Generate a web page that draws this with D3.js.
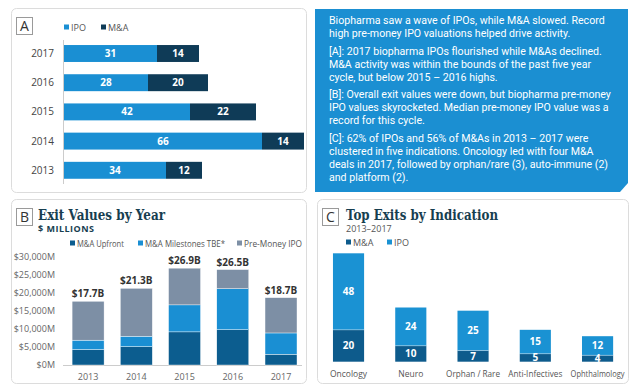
<!DOCTYPE html>
<html>
<head>
<meta charset="utf-8">
<script src="https://cdn.jsdelivr.net/npm/d3@7"></script>
<style>
  body{margin:0;background:#fff;}
  svg{display:block;font-family:"Open Sans",sans-serif;}
</style>
</head>
<body>
<svg id="chart" width="640" height="392"></svg>
<script>
// panel A: exits per year
var yearsA = ['2017','2016','2015','2014','2013'];
var ipoA   = [31,28,42,66,34];
var maA    = [14,20,22,14,12];
// panel B: exit values ($M)
var yearsB    = ['2013','2014','2015','2016','2017'];
var upfront   = [4300,5100,9200,9800,3000];
var milestone = [2600,2900,7500,11400,5900];
var premoney  = [10800,13300,10200,5300,9800];
var totalsB   = ['$17.7B','$21.3B','$26.9B','$26.5B','$18.7B'];
var ticksB    = [0,5000,10000,15000,20000,25000,30000];
// panel C: exits by indication
var indications = ['Oncology','Neuro','Orphan / Rare','Anti-Infectives','Ophthalmology'];
var maC  = [20,10,7,5,4];
var ipoC = [48,24,25,15,12];
// text box
var notes = [
  ['Biopharma saw a wave of IPOs, while M&A slowed. Record','high pre-money IPO valuations helped drive activity.'],
  ['[A]: 2017 biopharma IPOs flourished while M&As declined.','M&A activity was within the bounds of the past five year','cycle, but below 2015 \u2013 2016 highs.'],
  ['[B]: Overall exit values were down, but biopharma pre-money','IPO values skyrocketed. Median pre-money IPO value was a','record for this cycle.'],
  ['[C]: 62% of IPOs and 56% of M&As in 2013 \u2013 2017 were','clustered in five indications. Oncology led with four M&A','deals in 2017, followed by orphan/rare (3), auto-immune (2)','and platform (2).']
];

var col = {ipo:'#1a8fd3', ma:'#0f3b57', up:'#0c5d8f', mile:'#1a8fd3', pre:'#7d8fa5',
           maC:'#0d5b8c', ipoC:'#1a92d3', title:'#173e50', grey:'#555'};

var svg = d3.select('#chart');

// squeeze a text so it is never wider than max
function fit(sel,max){
  sel.each(function(){
    if (this.getComputedTextLength() > max)
      d3.select(this).attr('textLength',max).attr('lengthAdjust','spacingAndGlyphs');
  });
  return sel;
}
function card(x,y,w,h,letter){
  svg.append('rect').attr('x',x+0.5).attr('y',y+0.5).attr('width',w).attr('height',h)
    .attr('rx',5).attr('fill','#fff').attr('stroke','#dcdcdc');
  svg.append('rect').attr('x',x+5.5).attr('y',y+9.5).attr('width',16).attr('height',17)
    .attr('fill','#fff').attr('stroke','#9a9a9a');
  svg.append('text').attr('x',x+13.5).attr('y',y+23).attr('text-anchor','middle')
    .attr('font-size',14).attr('fill','#333').text(letter);
}
function legend(items,y){
  items.forEach(function(it){
    svg.append('rect').attr('x',it.x).attr('y',y-3.5).attr('width',5).attr('height',5).attr('fill',it.c);
    var t = svg.append('text').attr('x',it.x+7).attr('y',y+2.5).attr('font-size',9)
      .attr('fill',col.grey).text(it.t);
    if (it.w) fit(t,it.w);
  });
}
function title(x,y,t,len){
  svg.append('text').attr('x',x).attr('y',y).attr('font-family','"DejaVu Serif",serif')
    .attr('font-weight','bold').attr('font-size',14).attr('fill',col.title)
    .attr('textLength',len).attr('lengthAdjust','spacingAndGlyphs').text(t);
}

// ---------------- panel A ----------------
card(11,8,295,184,'A');
legend([{x:64,c:col.ipo,t:'IPO'},{x:101,c:col.ma,t:'M&A'}],28);
var xA = d3.scaleLinear().domain([0,80]).range([64,304]);
var yA = d3.scaleBand().domain(yearsA).range([38.9,184.9]).paddingInner(0.42).paddingOuter(0.21);
svg.append('line').attr('x1',63.5).attr('x2',63.5).attr('y1',40).attr('y2',184).attr('stroke','#ccc');
var gA = svg.append('g');
yearsA.forEach(function(yr,i){
  var y0 = yA(yr), h = yA.bandwidth();
  gA.append('rect').attr('x',xA(0)).attr('y',y0).attr('width',xA(ipoA[i])-xA(0)).attr('height',h).attr('fill',col.ipo);
  gA.append('rect').attr('x',xA(ipoA[i])).attr('y',y0).attr('width',xA(ipoA[i]+maA[i])-xA(ipoA[i])).attr('height',h).attr('fill',col.ma);
  gA.append('text').attr('x',(xA(0)+xA(ipoA[i]))/2).attr('y',y0+h/2+3.5).attr('text-anchor','middle')
    .attr('font-size',10).attr('font-weight','bold').attr('fill','#fff').text(ipoA[i]);
  gA.append('text').attr('x',(xA(ipoA[i])+xA(ipoA[i]+maA[i]))/2).attr('y',y0+h/2+3.5).attr('text-anchor','middle')
    .attr('font-size',10).attr('font-weight','bold').attr('fill','#fff').text(maA[i]);
  gA.append('text').attr('x',54).attr('y',y0+h/2+3.5).attr('text-anchor','end')
    .attr('font-size',10).attr('fill','#444').text(yr);
});

// ---------------- text box ----------------
svg.append('path').attr('d','M315,9 H628 V183 L620,192 H315 Z').attr('fill','#1b8fd2');
var tg = svg.append('g').attr('transform','translate(329,0) scale(0.965,1)')
  .attr('font-family','Roboto,sans-serif');
var ty = 24;
notes.forEach(function(par){
  par.forEach(function(line){
    tg.append('text').attr('x',0).attr('y',ty).attr('font-size',11).attr('fill','#fff').text(line);
    ty += 13.1;
  });
  ty += 4.4;
});

// ---------------- panel B ----------------
card(11,199,295,184,'B');
title(38,220,'Exit Values by Year',127);
svg.append('text').attr('x',38).attr('y',232).attr('font-size',9).attr('font-weight','bold')
  .attr('fill',col.title).attr('letter-spacing',0.5).text('$ MILLIONS');
legend([{x:70,c:col.up,t:'M&A Upfront',w:47},{x:138,c:col.mile,t:'M&A Milestones TBE*',w:80},
        {x:237,c:col.pre,t:'Pre-Money IPO',w:58}],244);
var xB = d3.scaleBand().domain(yearsB).range([63.9,305.2]).paddingInner(0.337).paddingOuter(0.17);
var yB = d3.scaleLinear().domain([0,30000]).range([365,257]);
svg.append('g').attr('transform','translate(57,0)')
  .call(d3.axisLeft(yB).tickValues(ticksB).tickSize(0).tickPadding(2)
    .tickFormat(function(d){return '$'+d3.format(',')(d)+'M';}))
  .call(function(g){g.select('.domain').remove();})
  .selectAll('text').attr('font-size',9).attr('fill','#666').attr('font-family','"Open Sans",sans-serif');
svg.append('line').attr('x1',63).attr('x2',302).attr('y1',365.5).attr('y2',365.5).attr('stroke','#ccc');
var stackB = d3.stack().keys(['up','mile','pre'])(yearsB.map(function(y,i){
  return {year:y, up:upfront[i], mile:milestone[i], pre:premoney[i]};
}));
var fillB = {up:col.up, mile:col.mile, pre:col.pre};
stackB.forEach(function(s){
  svg.append('g').selectAll('rect').data(s).enter().append('rect')
    .attr('x',function(d){return xB(d.data.year);}).attr('width',xB.bandwidth())
    .attr('y',function(d){return yB(d[1]);}).attr('height',function(d){return yB(d[0])-yB(d[1]);})
    .attr('fill',fillB[s.key]).attr('stroke','#fff').attr('stroke-width',0.4);
});
yearsB.forEach(function(yr,i){
  var top = upfront[i]+milestone[i]+premoney[i];
  svg.append('text').attr('x',xB(yr)+xB.bandwidth()/2).attr('y',yB(top)-4).attr('text-anchor','middle')
    .attr('font-size',10).attr('font-weight','bold').attr('fill','#333').text(totalsB[i]);
  svg.append('text').attr('x',xB(yr)+xB.bandwidth()/2).attr('y',380).attr('text-anchor','middle')
    .attr('font-size',9).attr('fill','#666').text(yr);
});

// ---------------- panel C ----------------
card(317,199,311,184,'C');
title(346,220,'Top Exits by Indication',152);
svg.append('text').attr('x',346).attr('y',232).attr('font-size',9).attr('fill','#555').text('2013\u20132017');
legend([{x:346,c:col.maC,t:'M&A'},{x:387,c:col.ipoC,t:'IPO'}],243);
var xC = d3.scaleBand().domain(indications).range([317.4,628.7]).paddingInner(0.5).paddingOuter(0.25);
var yC = d3.scaleLinear().domain([0,68]).range([361.7,253.3]);
indications.forEach(function(ind,i){
  var x0 = xC(ind), w = xC.bandwidth();
  svg.append('rect').attr('x',x0).attr('y',yC(maC[i])).attr('width',w).attr('height',yC(0)-yC(maC[i])).attr('fill',col.maC);
  svg.append('rect').attr('x',x0).attr('y',yC(maC[i]+ipoC[i])).attr('width',w)
    .attr('height',yC(maC[i])-yC(maC[i]+ipoC[i])).attr('fill',col.ipoC);
  svg.append('line').attr('x1',x0).attr('x2',x0+w).attr('y1',yC(maC[i])).attr('y2',yC(maC[i]))
    .attr('stroke','#fff').attr('stroke-opacity',0.35);
  svg.append('text').attr('x',x0+w/2).attr('y',(yC(0)+yC(maC[i]))/2+3.5).attr('text-anchor','middle')
    .attr('font-size',10).attr('font-weight','bold').attr('fill','#fff').text(maC[i]);
  svg.append('text').attr('x',x0+w/2).attr('y',(yC(maC[i])+yC(maC[i]+ipoC[i]))/2+3.5).attr('text-anchor','middle')
    .attr('font-size',10).attr('font-weight','bold').attr('fill','#fff').text(ipoC[i]);
  fit(svg.append('text').attr('x',x0+w/2).attr('y',377).attr('text-anchor','middle')
    .attr('font-size',8.5).attr('fill','#555').text(ind), 54);
});
</script>
</body>
</html>
